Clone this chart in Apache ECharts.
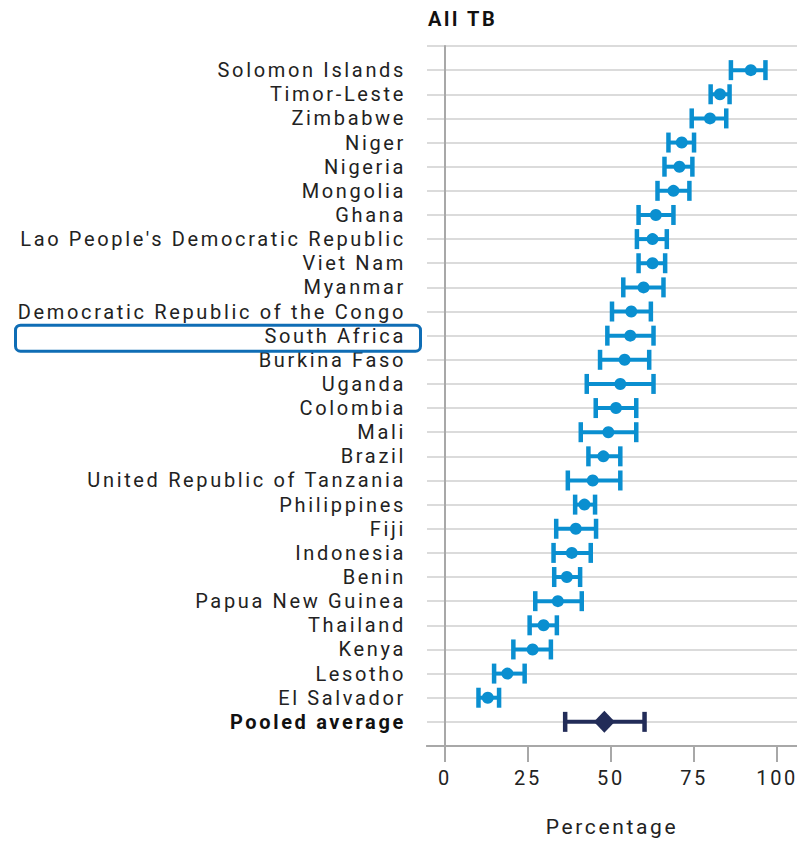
<!DOCTYPE html>
<html><head><meta charset="utf-8">
<script src="https://cdn.jsdelivr.net/npm/echarts@6/dist/echarts.min.js"></script>
<style>html,body{margin:0;padding:0;background:#fff}#c{width:797px;height:841px}#c svg text{letter-spacing:2.65px}</style>
</head><body><div id="c"></div>
<script>
const countries = ["Solomon Islands","Timor-Leste","Zimbabwe","Niger","Nigeria","Mongolia","Ghana",
"Lao People's Democratic Republic","Viet Nam","Myanmar","Democratic Republic of the Congo","South Africa",
"Burkina Faso","Uganda","Colombia","Mali","Brazil","United Republic of Tanzania","Philippines","Fiji",
"Indonesia","Benin","Papua New Guinea","Thailand","Kenya","Lesotho","El Salvador","Pooled average"];
const means  = [92.1,82.8,79.8,71.3,70.6,68.8,63.5,62.5,62.5,59.8,56.1,55.8,54.1,52.8,51.5,49.2,47.7,44.5,42.0,39.4,38.2,36.7,34.0,29.7,26.4,18.8,12.9,48.0];
const lowers = [86.1,80.0,74.3,67.3,66.1,64.0,58.3,57.8,58.3,53.7,50.3,48.9,46.7,42.7,45.4,40.9,43.2,37.0,39.2,33.5,32.7,32.9,27.2,25.5,20.6,14.8,10.1,36.2];
const uppers = [96.5,85.7,84.7,75.0,74.5,73.6,68.8,66.8,66.3,65.8,62.0,62.8,61.5,62.8,57.6,57.6,52.8,52.8,45.2,45.5,43.9,40.7,41.2,33.7,31.9,24.0,16.3,60.1];
const xTicks = [0,25,50,75,100];
const highlighted = "South Africa";
const pooledName = "Pooled average";
const titleText = "All TB";
const xName = "Percentage";

const N = countries.length;
const yOf = i => N - i;
const BLUE = '#0a8fd0', NAVY = '#222c58';
const FONT = 'Roboto';
const labelOf = v => { const i = N - v; return (i >= 0 && i < N) ? countries[i] : ''; };

const errData = countries.map((c,i)=>[lowers[i], uppers[i], yOf(i), c===pooledName?1:0]);
const dotData = countries.map((c,i)=>c===pooledName ? null : [means[i], yOf(i)]).filter(d=>d);
const pooledData = countries.map((c,i)=>c===pooledName ? [means[i], yOf(i)] : null).filter(d=>d);

const chart = echarts.init(document.getElementById('c'), null, {renderer:'svg'});
chart.setOption({
  animation:false,
  title:{text:titleText,left:428,top:9,padding:0,textStyle:{fontFamily:FONT,fontWeight:'bold',fontSize:20,color:'#111'}},
  grid:{left:427,right:0,top:46,bottom:95,outerBoundsMode:'none',containLabel:false},
  xAxis:[{type:'value',min:-5.4,max:106,position:'bottom',
    axisLine:{show:true,lineStyle:{color:'#a8a8a8',width:2}},
    axisTick:{show:true,customValues:xTicks,length:16,lineStyle:{color:'#a8a8a8',width:2}},
    axisLabel:{customValues:xTicks,margin:22,fontFamily:FONT,fontSize:20,color:'#222'},
    splitLine:{show:false},
    name:xName,nameLocation:'middle',nameGap:70,nameTextStyle:{fontFamily:FONT,fontSize:21,color:'#222'}},
   {type:'value',min:-5.4,max:106,position:'top',
    axisLine:{show:true,lineStyle:{color:'#a8a8a8',width:2}},axisTick:{show:false},axisLabel:{show:false},splitLine:{show:false}}],
  yAxis:[{type:'value',min:0,max:N+1,interval:1,
    axisLine:{show:true,lineStyle:{color:'#a8a8a8',width:2}},axisTick:{show:false},
    splitLine:{show:true,lineStyle:{color:'#cfcfcf',width:1.5}},
    axisLabel:{margin:21,fontFamily:FONT,fontSize:20,color:'#222',
      formatter:v=>{const c=labelOf(v); return c===pooledName?'':c;}}},
   {type:'value',min:0,max:N+1,interval:1,position:'left',
    axisLine:{show:false},axisTick:{show:false},splitLine:{show:false},
    axisLabel:{margin:21,fontFamily:FONT,fontSize:20,fontWeight:'bold',color:'#111',
      formatter:v=>{const c=labelOf(v); return c===pooledName?c:'';}}}],
  series:[
    {type:'custom',data:errData,encode:{x:[0,1],y:2},z:3,
     renderItem:(params,api)=>{
       const y=api.value(2), pooled=api.value(3)===1;
       const a=api.coord([api.value(0),y]), b=api.coord([api.value(1),y]);
       const col=pooled?NAVY:BLUE, h=10;
       return {type:'group',children:[
         {type:'line',shape:{x1:a[0],y1:a[1],x2:b[0],y2:b[1]},style:{stroke:col,lineWidth:4}},
         {type:'line',shape:{x1:a[0],y1:a[1]-h,x2:a[0],y2:a[1]+h},style:{stroke:col,lineWidth:4.5}},
         {type:'line',shape:{x1:b[0],y1:b[1]-h,x2:b[0],y2:b[1]+h},style:{stroke:col,lineWidth:4.5}}
       ]};
     }},
    {type:'scatter',data:dotData,symbol:'circle',symbolSize:12,itemStyle:{color:BLUE,opacity:1},z:4},
    {type:'scatter',data:pooledData,symbol:'diamond',symbolSize:[21,22],itemStyle:{color:NAVY,opacity:1},z:4}
  ]
});
const hi = countries.indexOf(highlighted);
const hy = chart.convertToPixel({yAxisIndex:0}, yOf(hi));
chart.setOption({graphic:[{type:'rect',left:13,top:hy-13,shape:{width:405,height:26,r:5},
  style:{fill:'none',stroke:'#0f6db5',lineWidth:3},z:10}]});
</script></body></html>
